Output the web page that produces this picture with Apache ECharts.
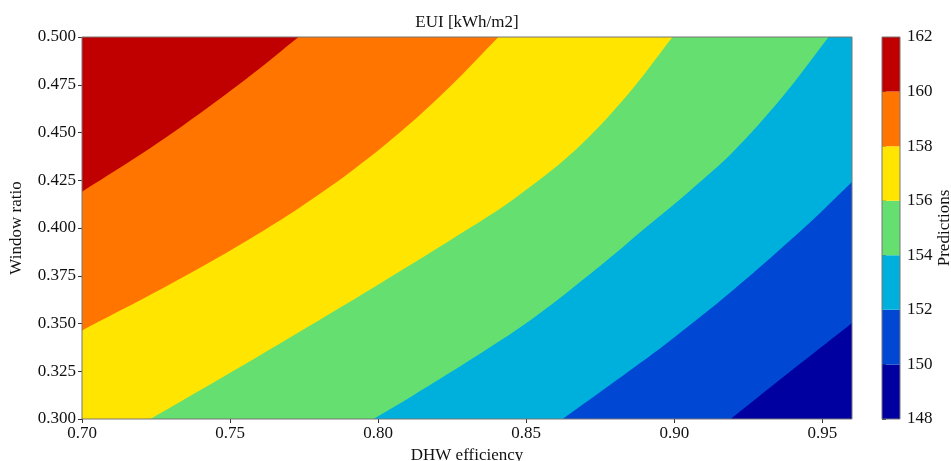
<!DOCTYPE html>
<html>
<head>
<meta charset="utf-8">
<script src="https://cdn.jsdelivr.net/npm/echarts@6/dist/echarts.min.js"></script>
<style>html,body{margin:0;padding:0;background:#fff;}#c{width:951px;height:461px;}</style>
</head>
<body>
<div id="c"></div>
<script>
// ---- data ----
const xTicks = [0.70, 0.75, 0.80, 0.85, 0.90, 0.95];
const xRange = [0.70, 0.96];
const yRange = [0.300, 0.500];
const levels = [148, 150, 152, 154, 156, 158, 160, 162];
const bandColors = ['#0000a0', '#0047d4', '#00b0dc', '#65e070', '#ffe500', '#ff7500', '#c00000'];
// contour lines [DHW efficiency, Window ratio], from upper-right end to lower-left end
const contour150 = [[0.960, 0.3503], [0.9420, 0.3284], [0.9190, 0.300]];
const contour152 = [[0.960, 0.4241], [0.9444, 0.4009], [0.9197, 0.3673], [0.8971, 0.3393], [0.8802, 0.3200], [0.8623, 0.300]];
const contour154 = [[0.9521, 0.500], [0.9366, 0.4688], [0.9197, 0.4396], [0.9055, 0.4198], [0.8903, 0.4001], [0.8744, 0.3794], [0.8521, 0.3525], [0.8302, 0.3301], [0.8119, 0.3125], [0.7984, 0.300]];
const contour156 = [[0.8994, 0.500], [0.8835, 0.4684], [0.8667, 0.4410], [0.8464, 0.4159], [0.8302, 0.3993], [0.8008, 0.3711], [0.7670, 0.3397], [0.7444, 0.3191], [0.7231, 0.300]];
const contour158 = [[0.8406, 0.500], [0.8244, 0.4742], [0.8075, 0.4502], [0.7906, 0.4293], [0.7738, 0.4110], [0.7569, 0.3945], [0.7400, 0.3793], [0.7231, 0.3650], [0.700, 0.3464]];
const contour160 = [[0.7731, 0.500], [0.7569, 0.4798], [0.7400, 0.4602], [0.7231, 0.4419], [0.700, 0.4190]];
const contours = [contour150, contour152, contour154, contour156, contour158, contour160];

const FONT = 'Liberation Serif';
const TXT = '#111';
const chart = echarts.init(document.getElementById('c'));

// pixel-space polygon of the region lying to the upper-left of a contour line;
// the line ends are continued a little outside the plot so that the smoothed
// outline is only rounded where it is clipped away.
function regionPixels(line, api) {
  const px = line.map(p => api.coord(p));
  const n = px.length;
  const ext = (a, b, len) => {
    const dx = a[0] - b[0], dy = a[1] - b[1];
    const d = Math.hypot(dx, dy) || 1;
    return [a[0] + dx / d * len, a[1] + dy / d * len];
  };
  const s = ext(px[0], px[1], 40);
  const e = ext(px[n - 1], px[n - 2], 40);
  const tl = api.coord([xRange[0], yRange[1]]);
  const far = 200;
  return [s].concat(px, [e, [tl[0] - far, e[1]], [tl[0] - far, tl[1] - far], [s[0], tl[1] - far]]);
}

const axisTxt = { fontFamily: FONT, fontSize: 17, color: TXT };

chart.setOption({
  animation: false,
  title: {
    text: 'EUI [kWh/m2]', left: 467, top: 14, padding: 0, textAlign: 'center',
    textStyle: { fontFamily: FONT, fontSize: 17, fontWeight: 'normal', color: TXT }
  },
  grid: [
    { left: 82, right: 99, top: 37, bottom: 42, outerBoundsMode: 'none', containLabel: false, show: true, z: 10, backgroundColor: 'transparent', borderColor: '#777', borderWidth: 1 },
    { left: 882, width: 18, top: 37, bottom: 42, outerBoundsMode: 'none', containLabel: false, show: true, z: 10, backgroundColor: 'transparent', borderColor: '#777', borderWidth: 1 }
  ],
  xAxis: [
    {
      type: 'value', gridIndex: 0, min: xRange[0], max: xRange[1], interval: 0.05,
      name: 'DHW efficiency', nameLocation: 'middle', nameGap: 24, nameTextStyle: axisTxt,
      axisLine: { show: false }, splitLine: { show: false },
      axisTick: { show: true, length: 4, lineStyle: { color: '#333' }, customValues: xTicks },
      axisLabel: { margin: 6, ...axisTxt, customValues: xTicks, formatter: v => v.toFixed(2) }
    },
    { type: 'value', gridIndex: 1, min: 0, max: 1, show: false }
  ],
  yAxis: [
    {
      type: 'value', gridIndex: 0, min: yRange[0], max: yRange[1], interval: 0.025,
      name: 'Window ratio', nameLocation: 'middle', nameGap: 57, nameRotate: 90, nameTextStyle: axisTxt,
      axisLine: { show: false }, splitLine: { show: false },
      axisTick: { show: true, length: 4, lineStyle: { color: '#333' } },
      axisLabel: { margin: 6, ...axisTxt, formatter: v => v.toFixed(3) }
    },
    {
      type: 'value', gridIndex: 1, position: 'right', min: levels[0], max: levels[levels.length - 1], interval: 2,
      name: 'Predictions', nameLocation: 'middle', nameGap: 36, nameRotate: 90, nameTextStyle: axisTxt,
      axisLine: { show: false }, splitLine: { show: false },
      axisTick: { show: true, length: 4, lineStyle: { color: '#333' } },
      axisLabel: { margin: 7, ...axisTxt }
    }
  ],
  series: [
    {
      type: 'custom', xAxisIndex: 0, yAxisIndex: 0, coordinateSystem: 'cartesian2d', clip: true, z: 2,
      data: levels.slice(0, 7).map(l => [xRange[0], yRange[0], l]),
      renderItem: function (params, api) {
        const i = params.dataIndex;
        if (i === 0) {
          const a = api.coord([xRange[0], yRange[1]]);
          const b = api.coord([xRange[1], yRange[0]]);
          return { type: 'rect', shape: { x: a[0], y: a[1], width: b[0] - a[0], height: b[1] - a[1] }, style: { fill: bandColors[0] } };
        }
        const pts = regionPixels(contours[i - 1], api);
        return { type: 'polygon', shape: { points: pts, smooth: 0.35 }, style: { fill: bandColors[i] } };
      }
    },
    {
      type: 'custom', xAxisIndex: 1, yAxisIndex: 1, coordinateSystem: 'cartesian2d', z: 2,
      data: levels.slice(0, 7).map((l, i) => [0, l, levels[i + 1]]),
      renderItem: function (params, api) {
        const i = params.dataIndex;
        const p0 = api.coord([0, api.value(2)]);
        const p1 = api.coord([1, api.value(1)]);
        return { type: 'rect', shape: { x: p0[0], y: p0[1], width: p1[0] - p0[0], height: p1[1] - p0[1] }, style: { fill: bandColors[i] } };
      }
    }
  ]
});
</script>
</body>
</html>
